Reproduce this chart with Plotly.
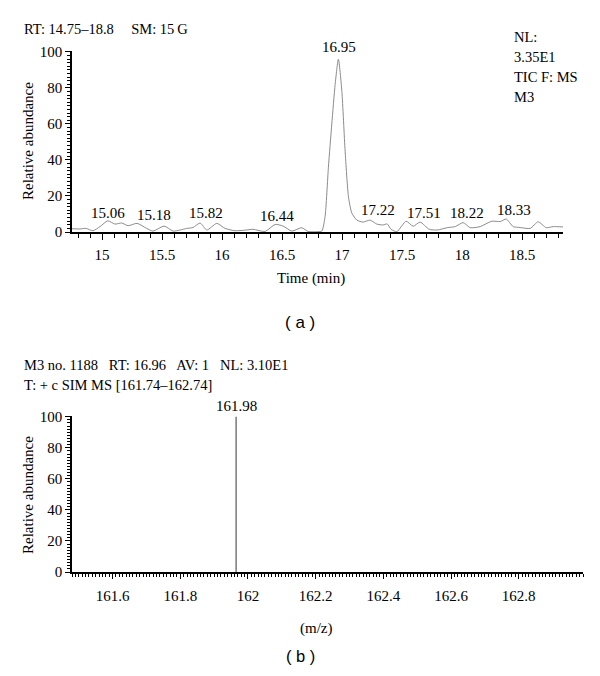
import plotly.graph_objects as go

# ---------------- data ----------------
time_min = [14.75, 14.817, 14.867, 14.925, 14.983, 15.048, 15.108, 15.164, 15.217, 15.292,
            15.372, 15.425, 15.517, 15.592, 15.65, 15.706, 15.758, 15.817, 15.873, 15.956,
            16.025, 16.108, 16.19, 16.258, 16.358, 16.442, 16.508, 16.581, 16.664, 16.717,
            16.8, 16.831, 16.858, 16.886, 16.914, 16.942, 16.969, 16.998, 17.025, 17.053,
            17.081, 17.123, 17.175, 17.233, 17.289, 17.342, 17.375, 17.408, 17.456, 17.533,
            17.592, 17.65, 17.725, 17.792, 17.875, 17.942, 18.008, 18.067, 18.15, 18.247,
            18.317, 18.367, 18.425, 18.483, 18.567, 18.633, 18.7, 18.758, 18.842]
abundance = [1.8, 1.7, 2.0, 0.7, 3.0, 6.2, 4.4, 5.0, 3.5, 4.8,
             2.0, 0.5, 3.3, 0.5, 1.1, 2.0, 2.5, 5.0, 1.1, 4.8,
             2.0, 0.7, 1.0, 1.5, 0.3, 4.2, 3.3, 0.5, 2.4, 0.3,
             0.2, 0.5, 8.5, 36.0, 60.0, 82.0, 96.0, 78.0, 45.0, 19.5,
             10.5, 6.6, 5.5, 6.6, 4.4, 3.9, 4.5, 1.5, 0.2, 6.0,
             3.2, 5.5, 1.5, 1.1, 2.4, 3.0, 5.2, 2.4, 3.0, 6.0,
             5.8, 7.2, 3.0, 2.5, 2.0, 5.7, 2.4, 3.0, 2.8]

peak_labels = ["15.06", "15.18", "15.82", "16.44", "16.95", "17.22", "17.51", "18.22", "18.33"]
peak_label_times = [15.05, 15.43, 15.87, 16.46, 16.97, 17.30, 17.68, 18.04, 18.43]
peak_label_levels = [10.7, 9.4, 10.5, 8.8, 96.0, 12.2, 10.5, 10.5, 12.2]

mz = [161.965]
mz_intensity = [100]
mz_labels = ["161.98"]

SERIF = "Liberation Serif, Times New Roman, serif"
SANS = "Liberation Sans, Arial, sans-serif"
OFF = 8                      # default page body margin
W, H = 600 - 2 * OFF, 676 - 2 * OFF


def px_x(p):
    return (p - OFF) / W


def px_y(p):
    return 1 - (p - OFF) / H


fig = go.Figure()

fig.add_trace(go.Scatter(
    x=time_min, y=abundance, mode="lines",
    line=dict(color="#8c8c8c", width=1, shape="spline", smoothing=0.6),
    xaxis="x", yaxis="y", hoverinfo="skip", showlegend=False))

stick_x, stick_y = [], []
for m, v in zip(mz, mz_intensity):
    stick_x += [m, m, None]
    stick_y += [0, v, None]
fig.add_trace(go.Scatter(
    x=stick_x, y=stick_y, mode="lines",
    line=dict(color="#7a7a7a", width=1.5),
    xaxis="x2", yaxis="y2", hoverinfo="skip", showlegend=False))

tickfont = dict(family=SERIF, size=15, color="black")
axis_common = dict(
    showline=True, linecolor="black", linewidth=1.5, mirror=False,
    showgrid=False, zeroline=False, ticks="outside", tickcolor="black",
    tickwidth=1.2, tickfont=tickfont, automargin=False,
)
minor_x = dict(ticklen=3, ticks="outside", tickcolor="black", tickwidth=1)

fig.update_layout(
    width=W, height=H,
    margin=dict(l=0, r=0, t=0, b=0),
    paper_bgcolor="white", plot_bgcolor="white",
    font=dict(family=SERIF, size=15, color="black"),
    showlegend=False,
    xaxis=dict(axis_common, domain=[px_x(72), px_x(563)], range=[14.75, 18.84],
               anchor="y", dtick=0.5, tick0=0, ticklen=6, ticklabelstandoff=2,
               minor=dict(minor_x, dtick=0.1, tick0=0, ticklen=4)),
    yaxis=dict(axis_common, domain=[px_y(232), px_y(51)], range=[0, 100.5],
               anchor="x", dtick=20, tick0=0, ticklen=5,
               minor=dict(minor_x, dtick=2, tick0=0)),
    xaxis2=dict(axis_common, domain=[px_x(72), px_x(583)], range=[161.48, 162.99],
                anchor="y2", dtick=0.2, tick0=161.6, ticklen=5, ticklabelstandoff=4,
                minor=dict(minor_x, dtick=0.01, tick0=161.6)),
    yaxis2=dict(axis_common, domain=[px_y(572), px_y(416)], range=[0, 100.5],
                anchor="x2", dtick=20, tick0=0, ticklen=5,
                minor=dict(minor_x, dtick=2, tick0=0)),
)

annotations = []
for t, lv, lab in zip(peak_label_times, peak_label_levels, peak_labels):
    if lv > 50:
        annotations.append(dict(x=t, y=lv, xref="x", yref="y", text=lab, showarrow=False,
                                xanchor="center", yanchor="bottom", yshift=2,
                                font=dict(family=SERIF, size=15, color="black")))
    else:
        annotations.append(dict(x=t, y=lv, xref="x", yref="y", text=lab, showarrow=False,
                                xanchor="center", yanchor="middle",
                                font=dict(family=SERIF, size=15, color="black")))
for m, v, lab in zip(mz, mz_intensity, mz_labels):
    annotations.append(dict(x=m, y=v, xref="x2", yref="y2", text=lab, showarrow=False,
                            xanchor="center", yanchor="bottom", yshift=1,
                            font=dict(family=SERIF, size=15, color="black")))


def paper_text(text, x, y, xanchor="left", size=14.5, family=SERIF, angle=0):
    annotations.append(dict(x=px_x(x), y=px_y(y), xref="paper", yref="paper", text=text,
                            showarrow=False, xanchor=xanchor, yanchor="middle",
                            textangle=angle, borderpad=0,
                            font=dict(family=family, size=size, color="black")))


paper_text("RT: 14.75\u201318.8\u2003\u2009SM: 15\u2009G", 23, 29)
paper_text("NL:", 513, 37)
paper_text("3.35E1", 513, 57)
paper_text("TIC F: MS", 513, 77)
paper_text("M3", 513, 97)
paper_text("Time (min)", 311, 278, xanchor="center", size=15)
paper_text("Relative abundance", 28, 141, xanchor="center", size=15, angle=-90)
paper_text("( a )", 300, 322, xanchor="center", size=17, family=SANS)
paper_text("M3 no. 1188\u2002 RT: 16.96\u2002 AV: 1\u2002 NL: 3.10E1", 23, 365)
paper_text("T: + c SIM MS [161.74\u2013162.74]", 23, 385)
paper_text("Relative abundance", 28, 495, xanchor="center", size=15, angle=-90)
paper_text("(m/z)", 316, 628, xanchor="center", size=15)
paper_text("( b )", 300, 656, xanchor="center", size=16.5, family=SANS)

fig.update_layout(annotations=annotations)

fig.write_html("out.html")
